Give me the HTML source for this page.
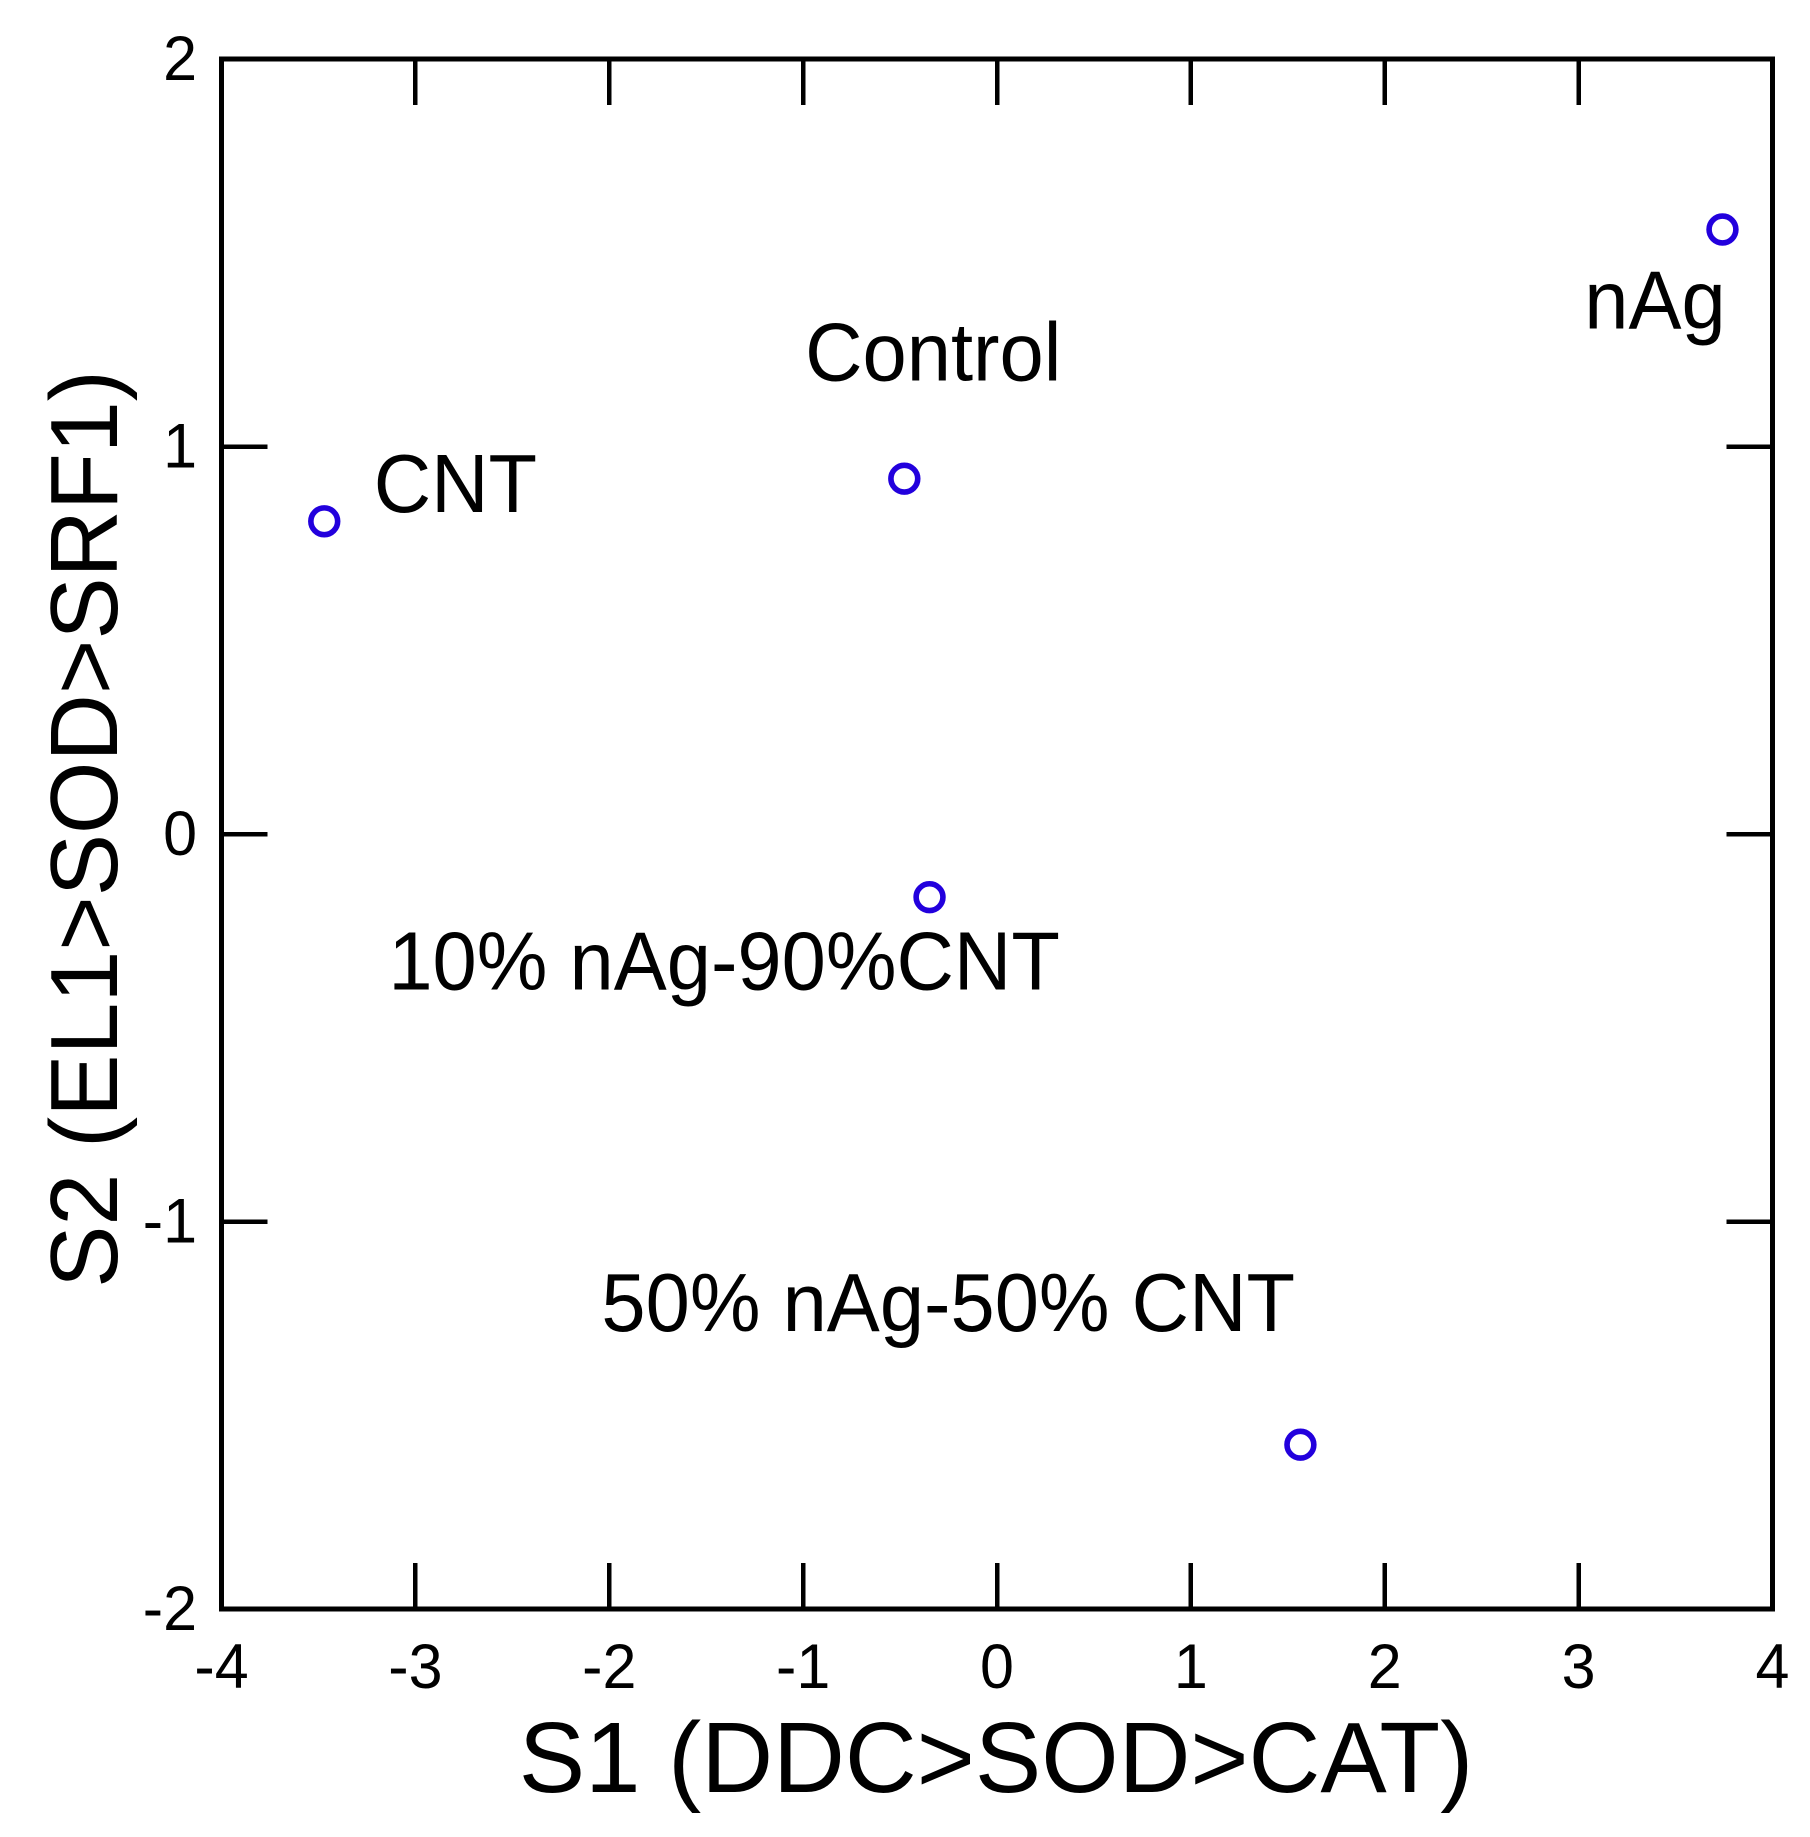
<!DOCTYPE html>
<html lang="en">
<head>
<meta charset="utf-8">
<title>S1 vs S2 scatter</title>
<style>
html,body{margin:0;padding:0;background:#fff;}
svg{display:block;}
text{font-family:"Liberation Sans",Arial,sans-serif;fill:#000;}
</style>
</head>
<body>
<svg id="chart" xmlns="http://www.w3.org/2000/svg" width="1810" height="1837" viewBox="0 0 1810 1837">
  <rect x="0" y="0" width="1810" height="1837" fill="#fff"/>
  <g id="ticks"></g>
  <rect x="221.5" y="59" width="1551" height="1550" fill="none" stroke="#000" stroke-width="5" shape-rendering="crispEdges"/>
  <g id="tick-labels"></g>
  <g id="points"></g>
  <g id="annotations"></g>
  <text transform="translate(996 1792) scale(1 1.01)" font-size="99.5" text-anchor="middle">S1 (DDC&gt;SOD&gt;CAT)</text>
  <text transform="translate(117 829) rotate(-90) scale(1 1.02)" font-size="93.3" text-anchor="middle">S2 (EL1&gt;SOD&gt;SRF1)</text>
</svg>
<script>
const categories = ["CNT", "Control", "10% nAg-90%CNT", "50% nAg-50% CNT", "nAg"];
const s1Values = [-3.47, -0.478, -0.348, 1.565, 3.742];
const s2Values = [0.807, 0.917, -0.163, -1.576, 1.56];
const xTickValues = [-4, -3, -2, -1, 0, 1, 2, 3, 4];
const yTickValues = [-2, -1, 0, 1, 2];

const SVG_NS = "http://www.w3.org/2000/svg";
const plot = { left: 221.5, right: 1772.5, top: 59, bottom: 1609 };
const tickLength = 46;
const labelOffset = {
  "CNT": [49.5, -9.3],
  "Control": [-99.2, -98],
  "10% nAg-90%CNT": [-541.2, 92.2],
  "50% nAg-50% CNT": [-699, -113.8],
  "nAg": [-138.2, 99.2]
};

function xScale(v) {
  return plot.left + (v + 4) / 8 * (plot.right - plot.left);
}
function yScale(v) {
  return plot.bottom - (v + 2) / 4 * (plot.bottom - plot.top);
}
function addLine(parent, x1, y1, x2, y2) {
  const el = document.createElementNS(SVG_NS, "line");
  el.setAttribute("x1", x1);
  el.setAttribute("y1", y1);
  el.setAttribute("x2", x2);
  el.setAttribute("y2", y2);
  el.setAttribute("stroke", "#000");
  el.setAttribute("stroke-width", "4.5");
  el.setAttribute("shape-rendering", "crispEdges");
  parent.appendChild(el);
  return el;
}
function addText(parent, x, y, size, anchor, stretch, content) {
  const el = document.createElementNS(SVG_NS, "text");
  el.setAttribute("transform", "translate(" + x + " " + y + ") scale(1 " + stretch + ")");
  el.setAttribute("font-size", size);
  el.setAttribute("text-anchor", anchor);
  el.textContent = content;
  parent.appendChild(el);
  return el;
}

const tickGroup = document.getElementById("ticks");
const tickLabelGroup = document.getElementById("tick-labels");
const pointGroup = document.getElementById("points");
const annotationGroup = document.getElementById("annotations");

xTickValues.forEach(function (v) {
  const x = xScale(v);
  if (v !== xTickValues[0] && v !== xTickValues[xTickValues.length - 1]) {
    const top = addLine(tickGroup, x, plot.top, x, plot.top + tickLength);
    
    
    const bottom = addLine(tickGroup, x, plot.bottom, x, plot.bottom - tickLength);
    
    
  }
  const label = addText(tickLabelGroup, x, plot.bottom + 79, 61, "middle", 1.03, String(v));
  
  
});

yTickValues.forEach(function (v) {
  const y = yScale(v);
  if (v !== yTickValues[0] && v !== yTickValues[yTickValues.length - 1]) {
    const left = addLine(tickGroup, plot.left, y, plot.left + tickLength, y);
    
    
    const right = addLine(tickGroup, plot.right, y, plot.right - tickLength, y);
    
    
  }
  const label = addText(tickLabelGroup, 197, y + 21, 61, "end", 1.03, String(v));
  
  
});

categories.forEach(function (name, i) {
  const cx = xScale(s1Values[i]);
  const cy = yScale(s2Values[i]);
  const circle = document.createElementNS(SVG_NS, "circle");
  circle.setAttribute("cx", cx);
  circle.setAttribute("cy", cy);
  circle.setAttribute("r", "13.4");
  circle.setAttribute("fill", "none");
  circle.setAttribute("stroke", "#2200dd");
  circle.setAttribute("stroke-width", "5.6");
  
  
  pointGroup.appendChild(circle);
  const off = labelOffset[name];
  const label = addText(annotationGroup, cx + off[0], cy + off[1], 79.5, "start", 1.04, name);
  
  
});
</script>
</body>
</html>
